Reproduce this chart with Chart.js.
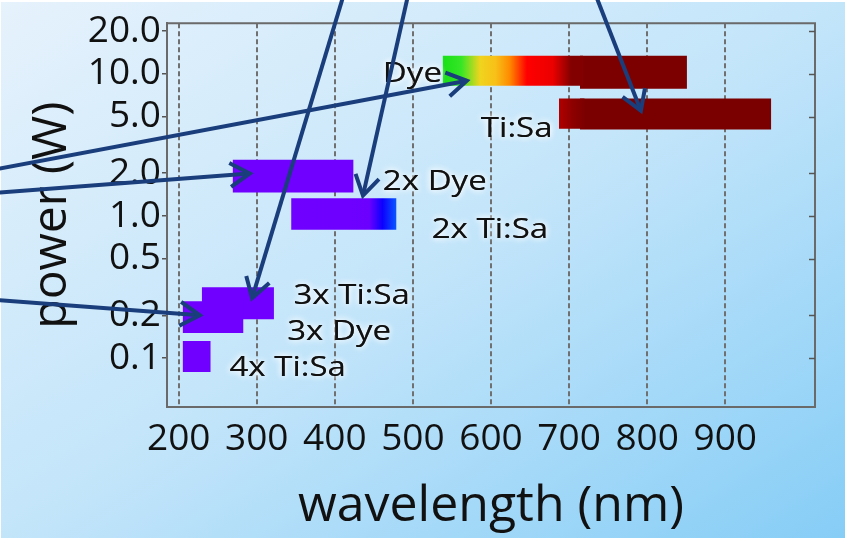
<!DOCTYPE html>
<html>
<head>
<meta charset="utf-8">
<script src="https://cdn.jsdelivr.net/npm/chart.js@4.4.0/dist/chart.umd.min.js"></script>
<style>
  html, body { margin: 0; padding: 0; background: #fff; }
  #wrap { position: relative; width: 846px; height: 541px; overflow: hidden; }
  #bg { position: absolute; left: 1px; top: 2px; width: 844px; height: 536px;
        background: linear-gradient(to bottom right, #e6f2fc 0%, #c3e5fa 50%, #86cdf6 100%); }
  canvas { position: absolute; left: 0; top: 0; }
</style>
</head>
<body>
<div id="wrap"><div id="bg"></div><canvas id="chart" width="846" height="541"></canvas></div>
<script>
// laser sources: wavelength range (nm) and power range (W); some bars are two overlapping pieces
const names    = ["Dye", "Dye", "Ti:Sa", "Ti:Sa", "2x Dye", "2x Ti:Sa", "3x Dye", "3x Ti:Sa", "4x Ti:Sa"];
const wlStart  = [538, 714, 687, 714, 269, 344, 205, 229.5, 205];
const wlEnd    = [718, 851, 720, 959, 424, 479, 283, 322, 241];
const powLow   = [8.24, 7.85, 4.1, 4.05, 1.46, 0.80, 0.150, 0.188, 0.080];
const powHigh  = [13.4, 13.4, 6.7, 6.7, 2.49, 1.33, 0.251, 0.315, 0.132];

const xTicks = [200, 300, 400, 500, 600, 700, 800, 900];
const yTicks = [0.1, 0.2, 0.5, 1, 2, 5, 10, 20];

// text labels next to the bars (left edge in nm, centre in W)
const labelText = ["Dye", "Ti:Sa", "2x Dye", "2x Ti:Sa", "3x Ti:Sa", "3x Dye", "4x Ti:Sa"];
const labelWl   = [461.5, 587, 461.5, 524, 347, 339, 265];
const labelPow  = [10, 4.11, 1.72, 0.79, 0.272, 0.152, 0.085];

// annotation arrows coming in from outside the plot
const arrowFromWl  = [412.8, 495, 732, -42.3, -42.3, -42.3];
const arrowFromPow = [38.3, 38.3, 38.3, 2.09, 1.443, 0.2584];
const arrowToWl    = [294, 436, 792, 569, 291, 227];
const arrowToPow   = [0.264, 1.39, 5.5, 8.93, 1.99, 0.200];

// fill styles: a colour or a list of [nm, colour] gradient stops
const PURPLE = "#7000ff";
const fills = [
  [[538, "#18e018"], [562, "#36e626"], [586, "#f0d41e"], [606, "#f8c018"], [624, "#ff8a00"], [646, "#ff0000"], [679, "#ec0000"], [703, "#820000"]],
  "#7d0000",
  [[687, "#b00000"], [705, "#8c0000"], [720, "#7c0000"]],
  "#7a0000",
  PURPLE,
  [[344, PURPLE], [444, "#6c00ff"], [461, "#0c00ff"], [479, "#0a58ff"]],
  PURPLE, PURPLE, PURPLE
];

const FONT = "'Open Sans'";
const NAVY = "#1a3d7c";

function pieceFill(chart, i) {
  const f = fills[i];
  if (typeof f === "string") return f;
  const x = chart.scales.x;
  if (!chart.chartArea || !x) return f[0][1];
  const x0 = x.getPixelForValue(wlStart[i]), x1 = x.getPixelForValue(wlEnd[i]);
  const g = chart.ctx.createLinearGradient(x0, 0, x1, 0);
  f.forEach(([nm, c]) => {
    const t = (x.getPixelForValue(nm) - x0) / (x1 - x0);
    g.addColorStop(Math.min(1, Math.max(0, t)), c);
  });
  return g;
}

const datasets = names.map((n, i) => ({
  label: n,
  data: [{ x: wlStart[i], y: powHigh[i] }, { x: wlEnd[i], y: powHigh[i] }],
  fill: { target: { value: powLow[i] } },
  backgroundColor: ctx => pieceFill(ctx.chart, i),
  borderWidth: 0,
  pointRadius: 0
}));

const decorations = {
  id: "decorations",
  beforeDatasetsDraw(chart) {
    const { ctx, chartArea: a, scales: { y } } = chart;
    ctx.save();
    ctx.strokeStyle = "#6a6a6a";
    ctx.lineWidth = 2;
    ctx.beginPath();
    ctx.moveTo(a.left, a.top); ctx.lineTo(a.right, a.top); ctx.lineTo(a.right, a.bottom);
    ctx.stroke();
    ctx.lineWidth = 1.5;
    ctx.strokeStyle = "#555";
    yTicks.forEach(v => {
      const py = Math.round(y.getPixelForValue(v)) + 0.5;
      ctx.beginPath(); ctx.moveTo(a.right - 6, py); ctx.lineTo(a.right, py); ctx.stroke();
    });
    ctx.restore();
  },
  afterDatasetsDraw(chart) {
    const { ctx, scales: { x, y } } = chart;
    const sx = 1.18;
    ctx.save();
    ctx.font = "28px " + FONT;
    ctx.textAlign = "left";
    ctx.textBaseline = "middle";
    labelText.forEach((t, i) => {
      const px = x.getPixelForValue(labelWl[i]), py = y.getPixelForValue(labelPow[i]);
      ctx.save();
      ctx.translate(px, py);
      ctx.scale(sx, 1);
      ctx.shadowColor = "rgba(255,255,255,0.95)";
      ctx.shadowBlur = 6;
      ctx.fillStyle = "#111";
      ctx.fillText(t, 0, 0);
      ctx.fillText(t, 0, 0);
      ctx.restore();
    });
    ctx.restore();
  },
  afterDraw(chart) {
    const { ctx, scales: { x, y } } = chart;
    ctx.save();
    ctx.strokeStyle = NAVY;
    ctx.lineWidth = 4;
    ctx.lineCap = "butt";
    ctx.lineJoin = "miter";
    arrowToWl.forEach((_, i) => {
      const x0 = x.getPixelForValue(arrowFromWl[i]), y0 = y.getPixelForValue(arrowFromPow[i]);
      const x1 = x.getPixelForValue(arrowToWl[i]), y1 = y.getPixelForValue(arrowToPow[i]);
      ctx.beginPath(); ctx.moveTo(x0, y0); ctx.lineTo(x1, y1); ctx.stroke();
      const ang = Math.atan2(y1 - y0, x1 - x0), len = 23, spread = 0.55;
      ctx.beginPath();
      ctx.moveTo(x1 - len * Math.cos(ang - spread), y1 - len * Math.sin(ang - spread));
      ctx.lineTo(x1, y1);
      ctx.lineTo(x1 - len * Math.cos(ang + spread), y1 - len * Math.sin(ang + spread));
      ctx.stroke();
    });
    ctx.restore();
  }
};

new Chart(document.getElementById("chart"), {
  type: "line",
  data: { datasets },
  options: {
    responsive: false,
    animation: false,
    layout: { padding: { top: 22, right: 31, left: 0, bottom: 0 } },
    plugins: { legend: { display: false }, tooltip: { enabled: false } },
    scales: {
      x: {
        type: "linear", min: 185, max: 1015,
        afterBuildTicks: s => { s.ticks = xTicks.map(v => ({ value: v })); },
        afterFit: s => { s.height = 134; },
        grid: { color: "#707070", lineWidth: 2, drawTicks: false },
        border: { display: true, color: "#6a6a6a", width: 2, dash: [5, 3] },
        ticks: { font: { family: FONT, size: 37 }, color: "#111", padding: 10, maxRotation: 0, autoSkip: false },
        title: { display: true, text: "wavelength (nm)", font: { family: FONT, size: 50 }, color: "#111", padding: { top: 0, bottom: 4 } }
      },
      y: {
        type: "logarithmic", min: 0.0453, max: 22.7,
        afterBuildTicks: s => { s.ticks = yTicks.map(v => ({ value: v })); },
        afterFit: s => { s.width = 167; },
        grid: { drawOnChartArea: false, drawTicks: true, tickLength: 5, color: "#555", lineWidth: 1.5 },
        border: { display: true, color: "#6a6a6a", width: 2 },
        ticks: { font: { family: FONT, size: 37 }, color: "#111", padding: 1, callback: v => Number(v).toFixed(1) },
        title: { display: true, text: "power (W)", font: { family: FONT, size: 48 }, color: "#111", padding: { top: 24, bottom: 0 } }
      }
    }
  },
  plugins: [decorations]
});
</script>
</body>
</html>
